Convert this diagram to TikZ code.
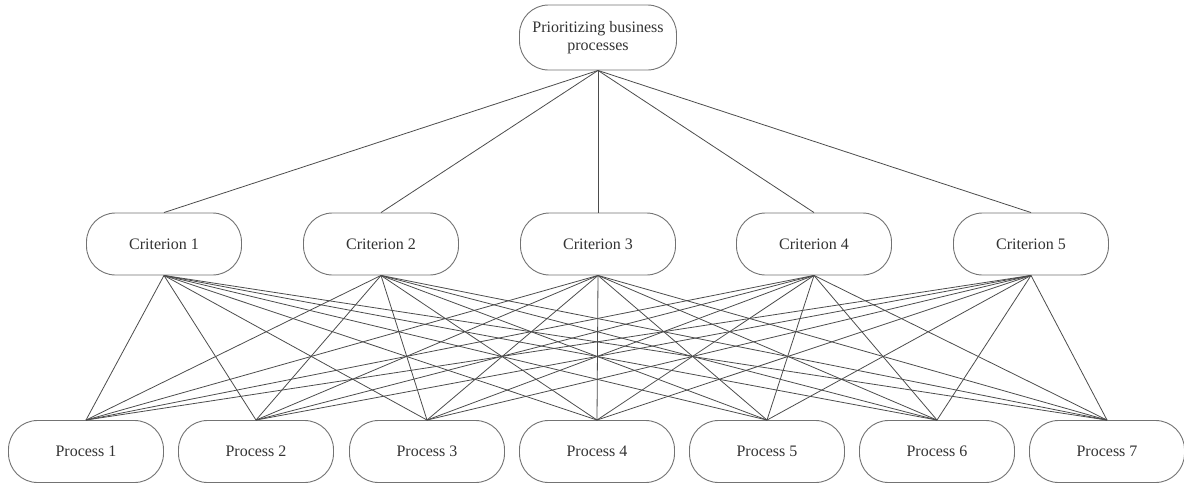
\documentclass[tikz,border=0pt]{standalone}
\usepackage{fontspec}
\setmainfont{Liberation Serif}
\begin{document}
\begin{tikzpicture}[x=1pt,y=-1pt,
  pill/.style={draw=black!55, line width=0.9pt, fill=white, rounded corners=29pt,
    minimum width=155pt, minimum height=62pt, inner sep=2pt, align=center,
    text=black!80, font=\fontsize{16}{18}\selectfont},
  link/.style={draw=black!70, line width=0.8pt}]
\useasboundingbox (0,0) rectangle (1184,485);

% goal
\node[pill, minimum width=157pt, minimum height=65pt] (goal) at (598,37.5) {Prioritizing business\\processes};

% criteria
\foreach \i/\x in {1/164,2/381,3/598,4/814,5/1031}
  \node[pill] (c\i) at (\x,244) {Criterion \i};

% processes
\foreach \j/\x in {1/86,2/256,3/427,4/597,5/767,6/937,7/1107}
  \node[pill] (p\j) at (\x,451.5) {Process \j};

% goal to criteria
\foreach \i in {1,...,5}
  \draw[link] (goal.south) -- (c\i.north);

% every criterion to every process
\foreach \i in {1,...,5}
  \foreach \j in {1,...,7}
    \draw[link] (c\i.south) -- (p\j.north);
\end{tikzpicture}
\end{document}
